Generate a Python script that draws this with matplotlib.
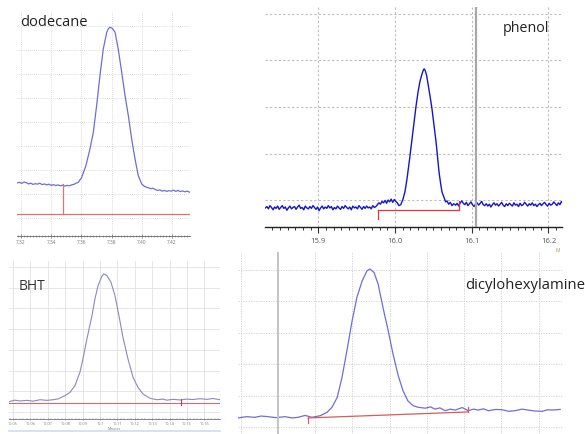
import matplotlib
matplotlib.use("Agg")
import matplotlib.pyplot as plt
from matplotlib.ticker import MultipleLocator, FixedLocator, FuncFormatter

plt.rcParams["font.family"] = ["Open Sans", "DejaVu Sans"]

# ──────────────────────────────────────────────
# 데이터 (그림에서 읽은 값, y 는 격자 간격 = 1 단위)
# ──────────────────────────────────────────────
# dodecane
dod_left_t = [7.3174, 7.3190, 7.3205, 7.3220, 7.3235, 7.3250, 7.3265, 7.3280, 7.3295,
              7.3310, 7.3325, 7.3340, 7.3355, 7.3370, 7.3385, 7.3400, 7.3415, 7.3430,
              7.3445, 7.3460, 7.3475, 7.3490, 7.3505, 7.3520, 7.3535, 7.3550, 7.3565]
dod_left_y = [0.46, 0.49, 0.44, 0.50, 0.47, 0.42, 0.45, 0.40, 0.43,
              0.41, 0.45, 0.39, 0.42, 0.38, 0.41, 0.36, 0.39, 0.35,
              0.38, 0.34, 0.37, 0.33, 0.36, 0.34, 0.38, 0.40, 0.45]
dod_peak_t = [7.3580, 7.3602, 7.3630, 7.3657, 7.3679, 7.3701, 7.3723, 7.3745,
              7.3768, 7.3778, 7.3789, 7.3805, 7.3823, 7.3844, 7.3867, 7.3889,
              7.3911, 7.3933, 7.3955, 7.3977, 7.3999, 7.4015, 7.4032]
dod_peak_y = [0.49, 0.69, 1.18, 1.88, 2.57, 3.68, 4.93, 6.04,
              6.74, 6.88, 6.95, 6.90, 6.74, 6.04, 5.07, 4.10,
              3.26, 2.29, 1.46, 0.76, 0.42, 0.33, 0.28]
dod_right_t = [7.4045, 7.4060, 7.4075, 7.4090, 7.4105, 7.4120, 7.4135, 7.4150, 7.4165,
               7.4180, 7.4195, 7.4210, 7.4225, 7.4240, 7.4255, 7.4270, 7.4285, 7.4300,
               7.4319]
dod_right_y = [0.26, 0.22, 0.24, 0.18, 0.15, 0.17, 0.12, 0.15, 0.11,
               0.14, 0.12, 0.16, 0.11, 0.15, 0.10, 0.13, 0.09, 0.12,
               0.07]
dod_base_t = [7.3174, 7.4319]
dod_base_y = [-0.83, -0.83]
dod_mark_t = 7.3478
dod_mark_y = [-0.83, 0.42]
dod_ticks = [7.32, 7.34, 7.36, 7.38, 7.40, 7.42]

# phenol
phe_left_t = [15.831, 15.833, 15.835, 15.837, 15.839, 15.841, 15.843, 15.845, 15.847, 15.849,
              15.851, 15.853, 15.855, 15.857, 15.859, 15.861, 15.863, 15.865, 15.867, 15.869,
              15.871, 15.873, 15.875, 15.877, 15.879, 15.881, 15.883, 15.885, 15.887, 15.889,
              15.891, 15.893, 15.895, 15.897, 15.899, 15.901, 15.903, 15.905, 15.907, 15.909,
              15.911, 15.913, 15.915, 15.917, 15.919, 15.921, 15.923, 15.925, 15.927, 15.929,
              15.931, 15.933, 15.935, 15.937, 15.939, 15.941, 15.943, 15.945, 15.947, 15.949,
              15.951, 15.953, 15.955, 15.957, 15.959, 15.961, 15.963, 15.965, 15.967, 15.969,
              15.971, 15.973, 15.975]
phe_left_y = [-0.17, -0.14, -0.19, -0.12, -0.16, -0.21, -0.15, -0.18, -0.13, -0.20,
              -0.16, -0.12, -0.18, -0.15, -0.22, -0.17, -0.13, -0.19, -0.16, -0.14,
              -0.20, -0.15, -0.11, -0.18, -0.16, -0.21, -0.13, -0.17, -0.19, -0.14,
              -0.18, -0.12, -0.16, -0.20, -0.15, -0.23, -0.17, -0.13, -0.19, -0.15,
              -0.18, -0.12, -0.17, -0.14, -0.21, -0.16, -0.19, -0.13, -0.17, -0.20,
              -0.14, -0.18, -0.12, -0.16, -0.19, -0.15, -0.21, -0.13, -0.17, -0.15,
              -0.19, -0.12, -0.16, -0.20, -0.14, -0.18, -0.13, -0.17, -0.15, -0.19,
              -0.12, -0.16, -0.14]
phe_peak_t = [15.977, 15.979, 15.981, 15.983, 15.985, 15.987, 15.989, 15.991, 15.993,
              15.995, 15.997, 15.999, 16.001, 16.003, 16.005, 16.0075, 16.0104,
              16.0130, 16.0156, 16.0190, 16.0222, 16.0250, 16.0274, 16.0300, 16.0325,
              16.0350, 16.0368, 16.0380, 16.0395, 16.0412, 16.0430, 16.0455, 16.0482,
              16.0510, 16.0535, 16.0555, 16.0574, 16.0595, 16.0613, 16.0640, 16.0660,
              16.0678, 16.0700, 16.0720, 16.0743, 16.0765, 16.0790, 16.0810]
phe_peak_y = [-0.10, -0.06, -0.09, -0.03, -0.06, -0.01, -0.07, 0.00, -0.04,
              0.02, -0.05, 0.01, -0.03, -0.06, -0.12, -0.10, 0.02,
              0.18, 0.45, 0.88, 1.31, 1.70, 2.02, 2.32, 2.55,
              2.70, 2.79, 2.82, 2.78, 2.68, 2.50, 2.25, 1.96,
              1.58, 1.25, 0.92, 0.60, 0.35, 0.17, 0.05, -0.04,
              -0.02, -0.09, -0.05, -0.12, -0.08, -0.11, -0.07]
phe_right_t = [16.083, 16.085, 16.087, 16.089, 16.091, 16.093, 16.095, 16.097, 16.099, 16.101,
               16.103, 16.105, 16.107, 16.109, 16.111, 16.113, 16.115, 16.117, 16.119, 16.121,
               16.123, 16.125, 16.127, 16.129, 16.131, 16.133, 16.135, 16.137, 16.139, 16.141,
               16.143, 16.145, 16.147, 16.149, 16.151, 16.153, 16.155, 16.157, 16.159, 16.161,
               16.163, 16.165, 16.167, 16.169, 16.171, 16.173, 16.175, 16.177, 16.179, 16.181,
               16.183, 16.185, 16.187, 16.189, 16.191, 16.193, 16.195, 16.197, 16.199, 16.201,
               16.203, 16.205, 16.207, 16.209, 16.211, 16.213, 16.215, 16.217, 16.219]
phe_right_y = [-0.13, -0.06, -0.02, -0.07, -0.10, -0.05, -0.12, -0.08, -0.04, -0.10,
               -0.14, -0.09, -0.06, -0.11, -0.07, -0.03, -0.10, -0.12, -0.08, -0.13,
               -0.09, -0.15, -0.10, -0.06, -0.11, -0.08, -0.13, -0.09, -0.05, -0.11,
               -0.14, -0.08, -0.12, -0.07, -0.10, -0.13, -0.06, -0.11, -0.09, -0.14,
               -0.07, -0.12, -0.10, -0.05, -0.09, -0.13, -0.08, -0.11, -0.06, -0.12,
               -0.09, -0.14, -0.10, -0.07, -0.12, -0.08, -0.05, -0.10, -0.13, -0.07,
               -0.11, -0.09, -0.04, -0.08, -0.12, -0.06, -0.10, -0.03, -0.08]
phe_base_t = [15.978, 16.0834]
phe_base_y = [-0.215, -0.215]
phe_tick_left = [-0.215, -0.41]
phe_tick_right = [-0.215, -0.02]
phe_cursor_t = 16.105
phe_ticks = [15.9, 16.0, 16.1, 16.2]

# BHT
bht_t = [10.0479, 10.0510, 10.0540, 10.0580, 10.0615, 10.0655, 10.0695, 10.0730,
         10.0759, 10.0799, 10.0828, 10.0856, 10.0885, 10.0902, 10.0925, 10.0954,
         10.0971, 10.0989, 10.1011, 10.1023, 10.1040, 10.1063, 10.1086, 10.1109,
         10.1132, 10.1161, 10.1190, 10.1218, 10.1247, 10.1287, 10.1328, 10.1360,
         10.1385, 10.1420, 10.1460, 10.1500, 10.1534, 10.1575, 10.1615, 10.1650,
         10.1690]
bht_y = [0.50, 0.57, 0.53, 0.56, 0.52, 0.59, 0.56, 0.59,
         0.63, 0.79, 0.95, 1.27, 1.92, 2.56, 3.53, 4.65,
         5.46, 6.10, 6.56, 6.67, 6.58, 6.27, 5.62, 4.65,
         3.61, 2.56, 1.68, 1.19, 0.87, 0.66, 0.59, 0.62,
         0.57, 0.61, 0.58, 0.62, 0.60, 0.64, 0.61, 0.65,
         0.59]
bht_base_t = [10.0477, 10.169]
bht_base_y = [0.43, 0.43]
bht_mark_t = 10.1468
bht_mark_y = [0.33, 0.62]
bht_ticks = [10.05, 10.06, 10.07, 10.08, 10.09, 10.10, 10.11, 10.12,
             10.13, 10.14, 10.15, 10.16, 10.17]

# dicyclohexylamine (격자 단위)
dcy_t = [-1.075, -0.85, -0.62, -0.45, -0.27, -0.05, 0.19, 0.38, 0.54, 0.73,
         0.91, 1.13, 1.32, 1.45, 1.59, 1.72, 1.85, 1.99, 2.12, 2.26, 2.39,
         2.47, 2.58, 2.69, 2.82, 2.96, 3.09, 3.23, 3.36, 3.49, 3.63, 3.76,
         3.95, 4.10, 4.22, 4.35, 4.49, 4.62, 4.76, 4.95, 5.11, 5.25, 5.38,
         5.52, 5.65, 5.85, 6.02, 6.20, 6.37, 6.55, 6.72, 6.90, 7.10, 7.25,
         7.37, 7.58]
dcy_y = [0.29, 0.33, 0.31, 0.35, 0.33, 0.30, 0.33, 0.29, 0.31, 0.37,
         0.31, 0.36, 0.47, 0.63, 0.94, 1.58, 2.42, 3.37, 4.12, 4.64, 4.96,
         5.02, 4.91, 4.54, 3.80, 3.06, 2.32, 1.63, 1.15, 0.83, 0.68, 0.63,
         0.60, 0.64, 0.57, 0.61, 0.52, 0.57, 0.54, 0.62, 0.52, 0.57, 0.54,
         0.58, 0.52, 0.56, 0.55, 0.50, 0.52, 0.57, 0.54, 0.51, 0.50, 0.55,
         0.54, 0.56]
dcy_base_t = [0.81, 5.11]
dcy_base_y = [0.29, 0.48]
dcy_tick_left = [0.29, 0.12]
dcy_tick_right = [0.48, 0.64]
dcy_cursor_t = 0.0


def px_axes(fig, x0, y0, x1, y1):
    W, H = 585.0, 435.0
    return fig.add_axes([x0 / W, 1 - y1 / H, (x1 - x0) / W, (y1 - y0) / H])


def fmt_trim(v, pos):
    s = f"{v:.2f}"
    return s[:-1] if s.endswith("0") else s


fig = plt.figure(figsize=(5.85, 4.35), dpi=100)

# ── dodecane ──
ax = px_axes(fig, 17, 12, 190, 237)
ax.plot(dod_left_t + dod_peak_t + dod_right_t,
        dod_left_y + dod_peak_y + dod_right_y, color="#6e6ed2", lw=0.9)
ax.plot(dod_base_t, dod_base_y, color="#e07272", lw=0.9)
ax.plot([dod_mark_t, dod_mark_t], dod_mark_y, color="#e07272", lw=0.9)
ax.set_xlim(7.3174, 7.4319)
ax.set_ylim(-1.75, 7.625)
ax.xaxis.set_major_locator(FixedLocator(dod_ticks))
ax.xaxis.set_major_formatter(FuncFormatter(lambda v, p: f"{v:.2f}"))
ax.xaxis.set_minor_locator(MultipleLocator(0.002))
ax.yaxis.set_major_locator(MultipleLocator(1))
ax.tick_params(axis="x", direction="inout", length=3, width=0.5, labelsize=3.5,
               labelcolor="#777777", color="#666666", pad=1)
ax.tick_params(axis="x", which="minor", direction="inout", length=1.5, width=0.4,
               color="#666666")
ax.tick_params(axis="y", left=False, labelleft=False)
ax.grid(True, color="#cfcfcf", lw=0.6, ls=(0, (1, 1.5)))
for s in ("top", "left", "right"):
    ax.spines[s].set_visible(False)
ax.spines["bottom"].set_color("#666666")
ax.spines["bottom"].set_linewidth(0.6)
ax.text(0.017, 0.955, "dodecane", transform=ax.transAxes, fontsize=10.5,
        color="#222222", va="center", ha="left")

# ── phenol ──
ax = px_axes(fig, 265, 8, 562, 228)
ax.plot(phe_left_t + phe_peak_t + phe_right_t,
        phe_left_y + phe_peak_y + phe_right_y, color="#1616c8", lw=1.0)
ax.plot(phe_base_t, phe_base_y, color="#d83a3a", lw=0.9)
ax.plot([phe_base_t[0]] * 2, phe_tick_left, color="#d83a3a", lw=0.9)
ax.plot([phe_base_t[1]] * 2, phe_tick_right, color="#d83a3a", lw=0.9)
ax.axvline(phe_cursor_t, color="#a8a8a8", lw=1.6)
ax.set_xlim(15.8305, 16.2177)
ax.set_ylim(-0.58, 4.15)
ax.xaxis.set_major_locator(FixedLocator(phe_ticks))
ax.xaxis.set_major_formatter(FuncFormatter(lambda v, p: f"{v:.1f}"))
ax.xaxis.set_minor_locator(MultipleLocator(0.01))
ax.yaxis.set_major_locator(MultipleLocator(1))
ax.tick_params(axis="x", direction="out", length=4, width=0.8, labelsize=5.5,
               labelcolor="#555555", color="#333333", pad=3)
ax.tick_params(axis="x", which="minor", direction="out", length=2.5, width=0.7,
               color="#333333")
ax.tick_params(axis="y", left=False, labelleft=False)
ax.grid(True, color="#bdbdbd", lw=0.8, ls=(0, (2, 2)))
for s in ("top", "left", "right"):
    ax.spines[s].set_visible(False)
ax.spines["bottom"].set_color("#222222")
ax.spines["bottom"].set_linewidth(1.0)
ax.text(0.80, 0.905, "phenol", transform=ax.transAxes, fontsize=10.3,
        color="#222222", va="center", ha="left")
fig.text(558 / 585, 1 - 251 / 435, "M", fontsize=3.5, color="#b09060",
         ha="center", va="center")

# ── BHT ──
ax = px_axes(fig, 9, 262, 220, 420)
ax.plot(bht_t, bht_y, color="#8a8ab8", lw=0.8)
ax.plot(bht_base_t, bht_base_y, color="#d86a6a", lw=0.8)
ax.plot([bht_mark_t, bht_mark_t], bht_mark_y, color="#c04050", lw=0.8)
ax.set_xlim(10.0477, 10.169)
ax.set_ylim(-0.34, 7.29)
ax.xaxis.set_major_locator(FixedLocator(bht_ticks))
ax.xaxis.set_major_formatter(FuncFormatter(fmt_trim))
ax.xaxis.set_minor_locator(MultipleLocator(0.002))
ax.yaxis.set_major_locator(MultipleLocator(1))
ax.tick_params(axis="x", direction="inout", length=2, width=0.4, labelsize=2.8,
               labelcolor="#777777", color="#666666", pad=0.5)
ax.tick_params(axis="x", which="minor", direction="inout", length=1, width=0.3,
               color="#666666")
ax.tick_params(axis="y", left=False, labelleft=False)
ax.grid(True, color="#e2e2e2", lw=0.6)
for s in ("top", "left", "right"):
    ax.spines[s].set_visible(False)
ax.spines["bottom"].set_color("#777777")
ax.spines["bottom"].set_linewidth(0.6)
ax.set_xlabel("Minutes", fontsize=2.5, color="#777777", labelpad=0.5)
ax.plot([0, 1], [-0.075, -0.075], transform=ax.transAxes, clip_on=False,
        color="#cfdcf0", lw=1.2)
ax.text(0.047, 0.848, "BHT", transform=ax.transAxes, fontsize=10,
        color="#333333", va="center", ha="left")

# ── dicyclohexylamine ──
ax = px_axes(fig, 238, 253, 562, 435)
ax.plot(dcy_t, dcy_y, color="#6e6ed6", lw=0.9)
ax.plot(dcy_base_t, dcy_base_y, color="#d85a5a", lw=0.9)
ax.plot([dcy_base_t[0]] * 2, dcy_tick_left, color="#d85a5a", lw=0.9)
ax.plot([dcy_base_t[1]] * 2, dcy_tick_right, color="#d85a5a", lw=0.9)
ax.axvline(dcy_cursor_t, color="#c4c4c4", lw=1.4)
ax.set_xlim(-1.075, 7.63)
ax.set_ylim(-0.22, 5.56)
ax.xaxis.set_major_locator(MultipleLocator(1))
ax.yaxis.set_major_locator(MultipleLocator(1))
ax.tick_params(bottom=False, left=False, labelbottom=False, labelleft=False)
ax.grid(True, color="#cccccc", lw=0.6, ls=(0, (1.5, 1.5)))
for s in ax.spines.values():
    s.set_visible(False)
ax.text(0.70, 0.82, "dicylohexylamine", transform=ax.transAxes, fontsize=10.7,
        color="#222222", va="center", ha="left", clip_on=False)

fig.savefig("out.png", dpi=100)
